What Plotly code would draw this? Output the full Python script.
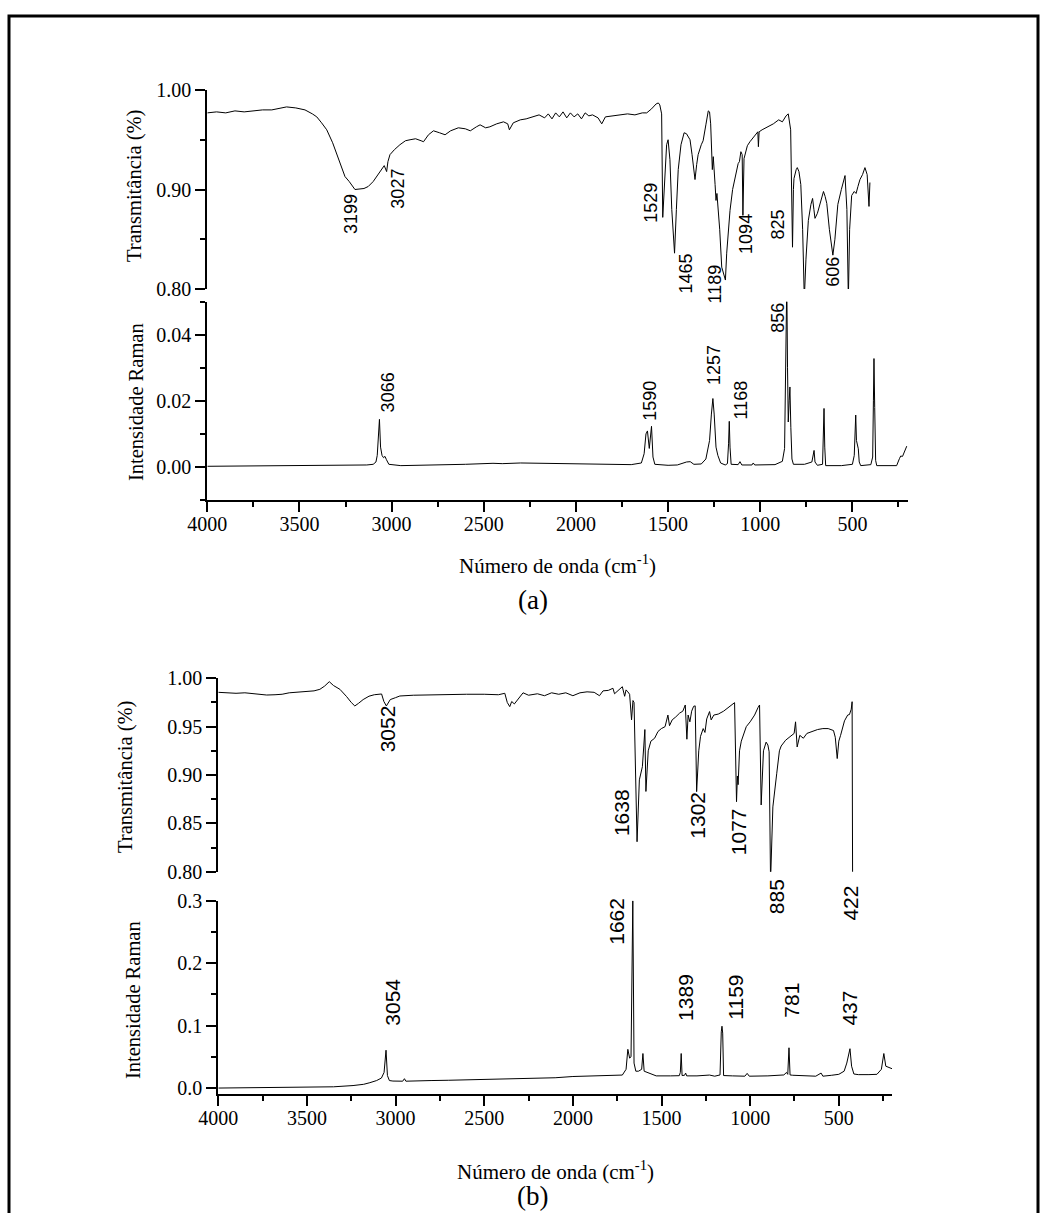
import plotly.graph_objects as go

W, H = 1049, 1213

# ---------------- (a) FTIR spectrum ----------------
ir_a_wn = [4000, 3950, 3900, 3850, 3800, 3750, 3700, 3650, 3600, 3570, 3520, 3470, 3430, 3406,
           3380, 3352, 3320, 3289, 3270, 3253, 3230, 3199, 3150, 3127, 3100, 3081, 3060, 3040,
           3027, 3020, 3009, 2985, 2955, 2925, 2900, 2870, 2840, 2827, 2800, 2773, 2740, 2710,
           2680, 2638, 2600, 2573, 2540, 2520, 2490, 2467, 2430, 2393, 2370, 2361, 2340, 2302,
           2270, 2230, 2200, 2170, 2150, 2130, 2110, 2090, 2070, 2050, 2030, 2010, 1990, 1970,
           1950, 1930, 1910, 1880, 1860, 1840, 1800, 1760, 1720, 1680, 1640, 1616, 1590, 1565,
           1553, 1545, 1535, 1529, 1520, 1508, 1500, 1490, 1480, 1465, 1455, 1445, 1430, 1413,
           1400, 1381, 1370, 1354, 1345, 1337, 1320, 1310, 1295, 1282, 1275, 1269, 1260, 1255,
           1245, 1240, 1235, 1220, 1209, 1189, 1182, 1164, 1150, 1137, 1120, 1113, 1105, 1098,
           1094, 1088, 1070, 1056, 1040, 1020, 1013, 1010, 1006, 990, 960, 929, 900, 880, 860,
           848, 835, 825, 820, 817, 805, 799, 790, 780, 770, 761, 752, 739, 725, 716, 709, 703,
           690, 675, 657, 648, 639, 625, 606, 595, 579, 560, 540, 530, 522, 515, 504, 490, 480,
           470, 459, 445, 432, 420, 410, 405]
ir_a_t = [0.977, 0.978, 0.977, 0.979, 0.978, 0.979, 0.980, 0.980, 0.982, 0.983, 0.982, 0.980,
          0.976, 0.973, 0.967, 0.960, 0.947, 0.931, 0.920, 0.913, 0.908, 0.900, 0.901, 0.903,
          0.908, 0.913, 0.919, 0.924, 0.918, 0.928, 0.935, 0.940, 0.945, 0.949, 0.950, 0.951,
          0.949, 0.948, 0.955, 0.959, 0.957, 0.955, 0.959, 0.962, 0.961, 0.959, 0.963, 0.965,
          0.962, 0.963, 0.966, 0.968, 0.966, 0.960, 0.967, 0.970, 0.971, 0.973, 0.975, 0.972,
          0.976, 0.971, 0.977, 0.973, 0.978, 0.972, 0.977, 0.973, 0.976, 0.971, 0.977, 0.974,
          0.975, 0.972, 0.966, 0.973, 0.974, 0.975, 0.976, 0.975, 0.977, 0.977, 0.981, 0.986,
          0.987, 0.985, 0.976, 0.872, 0.900, 0.945, 0.950, 0.930, 0.880, 0.836, 0.880, 0.920,
          0.945, 0.957, 0.956, 0.950, 0.935, 0.910, 0.925, 0.935, 0.945, 0.949, 0.965, 0.979,
          0.978, 0.966, 0.920, 0.933, 0.905, 0.889, 0.896, 0.860, 0.822, 0.809, 0.836, 0.879,
          0.900, 0.913, 0.926, 0.928, 0.938, 0.935, 0.874, 0.931, 0.944, 0.948, 0.952, 0.956,
          0.958, 0.943, 0.958, 0.960, 0.963, 0.966, 0.970, 0.968, 0.974, 0.976, 0.960, 0.842,
          0.900, 0.911, 0.920, 0.922, 0.918, 0.905, 0.860, 0.790, 0.830, 0.869, 0.885, 0.891,
          0.880, 0.871, 0.876, 0.885, 0.898, 0.893, 0.886, 0.860, 0.834, 0.850, 0.885, 0.900,
          0.914, 0.880, 0.790, 0.860, 0.894, 0.898, 0.896, 0.903, 0.910, 0.915, 0.922, 0.915,
          0.883, 0.907]

# ---------------- (a) Raman spectrum ----------------
ra_a_wn = [4000, 3800, 3600, 3400, 3200, 3135, 3100, 3085, 3078, 3072, 3066, 3060, 3052, 3044,
           3036, 3028, 3015, 2950, 2800, 2600, 2450, 2400, 2300, 2200, 2000, 1800, 1700, 1645,
           1630, 1620, 1612, 1602, 1596, 1590, 1582, 1572, 1500, 1450, 1400, 1380, 1360, 1320,
           1295, 1275, 1265, 1257, 1250, 1240, 1230, 1215, 1190, 1178, 1172, 1168, 1164, 1158,
           1120, 1110, 1100, 1045, 1038, 1030, 920, 880, 868, 861, 856, 852, 848, 843, 839,
           834, 828, 820, 760, 720, 712, 708, 703, 690, 662, 658, 654, 650, 645, 560, 500,
           490, 485, 482, 478, 473, 468, 463, 455, 400, 390, 386, 383, 379, 374, 368, 260,
           245, 238, 228, 218, 205]
ra_a_i = [0.0002, 0.0003, 0.0002, 0.0003, 0.0005, 0.0006, 0.0008, 0.0015, 0.0035, 0.0090,
          0.0144, 0.0060, 0.0035, 0.0028, 0.0032, 0.0022, 0.0008, 0.0004, 0.0005, 0.0008,
          0.0011, 0.0010, 0.0012, 0.0011, 0.0008, 0.0006, 0.0007, 0.0012, 0.0040, 0.0100,
          0.0109, 0.0056, 0.0090, 0.0123, 0.0030, 0.0008, 0.0005, 0.0006, 0.0015, 0.0016,
          0.0008, 0.0009, 0.0024, 0.0080, 0.0160, 0.0207, 0.0160, 0.0060, 0.0035, 0.0012,
          0.0006, 0.0010, 0.0070, 0.0138, 0.0060, 0.0008, 0.0007, 0.0016, 0.0006, 0.0006,
          0.0012, 0.0006, 0.0007, 0.0017, 0.0056, 0.0300, 0.0560, 0.0300, 0.0136, 0.0200,
          0.0242, 0.0120, 0.0024, 0.0008, 0.0008, 0.0015, 0.0045, 0.0050, 0.0015, 0.0005,
          0.0008, 0.0080, 0.0177, 0.0060, 0.0004, 0.0004, 0.0008, 0.0035, 0.0100, 0.0157,
          0.0080, 0.0063, 0.0055, 0.0015, 0.0004, 0.0007, 0.0030, 0.0200, 0.0328, 0.0180,
          0.0020, 0.0004, 0.0004, 0.0025, 0.0033, 0.0032, 0.0045, 0.0063]

# ---------------- (b) FTIR spectrum ----------------
ir_b_wn = [4000, 3950, 3900, 3850, 3800, 3750, 3727, 3680, 3640, 3600, 3550, 3500, 3460, 3427,
           3400, 3374, 3350, 3314, 3295, 3276, 3250, 3230, 3210, 3183, 3150, 3120, 3079, 3066,
           3052, 3040, 3030, 3000, 2976, 2900, 2800, 2700, 2600, 2500, 2420, 2384, 2370, 2356,
           2345, 2330, 2310, 2281, 2250, 2200, 2160, 2120, 2080, 2040, 2000, 1960, 1920, 1880,
           1850, 1830, 1800, 1774, 1765, 1740, 1721, 1708, 1700, 1690, 1680, 1669, 1661, 1655,
           1648, 1638, 1625, 1608, 1600, 1594, 1588, 1575, 1560, 1539, 1520, 1501, 1480, 1464,
           1455, 1440, 1420, 1398, 1380, 1366, 1357, 1350, 1340, 1330, 1319, 1310, 1302, 1290,
           1280, 1265, 1255, 1245, 1229, 1220, 1205, 1180, 1150, 1120, 1100, 1088, 1077, 1072,
           1068, 1060, 1050, 1022, 1000, 975, 955, 947, 938, 925, 910, 900, 893, 885, 872, 860,
           850, 835, 825, 800, 770, 760, 752, 744, 735, 720, 700, 680, 650, 620, 590, 560, 530,
           520, 509, 500, 490, 468, 450, 440, 430, 425, 422]
ir_b_t = [0.9855, 0.985, 0.9845, 0.985, 0.984, 0.983, 0.9827, 0.983, 0.9835, 0.985, 0.9855,
          0.9865, 0.987, 0.9886, 0.992, 0.9965, 0.9925, 0.9886, 0.985, 0.981, 0.975, 0.9714,
          0.974, 0.978, 0.9815, 0.983, 0.9838, 0.976, 0.9714, 0.975, 0.978, 0.980, 0.9817,
          0.9825, 0.983, 0.9835, 0.9835, 0.9835, 0.983, 0.9845, 0.975, 0.9707, 0.976, 0.9735,
          0.978, 0.985, 0.9825, 0.984, 0.982, 0.985, 0.9835, 0.985, 0.982, 0.985, 0.986,
          0.9855, 0.982, 0.987, 0.9875, 0.9897, 0.984, 0.988, 0.9913, 0.9814, 0.988, 0.986,
          0.9835, 0.957, 0.977, 0.975, 0.905, 0.831, 0.895, 0.9086, 0.930, 0.947, 0.883,
          0.925, 0.935, 0.938, 0.945, 0.948, 0.950, 0.962, 0.951, 0.957, 0.960, 0.964, 0.966,
          0.9724, 0.937, 0.962, 0.955, 0.966, 0.971, 0.9715, 0.8828, 0.925, 0.940, 0.948,
          0.944, 0.958, 0.9656, 0.957, 0.962, 0.963, 0.966, 0.970, 0.973, 0.9748, 0.8724,
          0.899, 0.890, 0.925, 0.935, 0.950, 0.955, 0.962, 0.970, 0.9724, 0.869, 0.925, 0.934,
          0.931, 0.924, 0.790, 0.867, 0.890, 0.9018, 0.925, 0.930, 0.936, 0.940, 0.941, 0.943,
          0.955, 0.929, 0.941, 0.938, 0.943, 0.945, 0.947, 0.948, 0.948, 0.946, 0.939, 0.917,
          0.935, 0.941, 0.956, 0.962, 0.9625, 0.968, 0.9758, 0.780]

# ---------------- (b) Raman spectrum ----------------
ra_b_wn = [4000, 3800, 3600, 3450, 3350, 3240, 3180, 3145, 3107, 3080, 3065, 3054, 3046, 3035,
           3015, 2960, 2950, 2942, 2900, 2800, 2700, 2600, 2500, 2400, 2300, 2200, 2100, 2000,
           1900, 1811, 1721, 1700, 1690, 1680, 1672, 1662, 1655, 1645, 1630, 1612, 1605, 1598,
           1580, 1560, 1530, 1450, 1400, 1394, 1389, 1384, 1370, 1364, 1358, 1300, 1229, 1200,
           1170, 1163, 1159, 1155, 1150, 1100, 1030, 1017, 1005, 900, 810, 795, 788, 781, 775,
           760, 700, 630, 600, 590, 540, 500, 470, 455, 437, 428, 415, 390, 330, 285, 260, 246,
           235, 215, 200]
ra_b_i = [0.0, 0.0005, 0.0005, 0.001, 0.002, 0.004, 0.006, 0.0086, 0.012, 0.016, 0.025, 0.0606,
          0.020, 0.012, 0.0112, 0.011, 0.015, 0.011, 0.0115, 0.012, 0.0125, 0.013, 0.014, 0.0145,
          0.015, 0.016, 0.0165, 0.0185, 0.019, 0.0197, 0.0208, 0.030, 0.062, 0.048, 0.050, 0.300,
          0.040, 0.027, 0.027, 0.030, 0.0553, 0.027, 0.025, 0.022, 0.0195, 0.0195, 0.0198, 0.025,
          0.0553, 0.020, 0.0205, 0.024, 0.0195, 0.0195, 0.0208, 0.019, 0.021, 0.090, 0.099,
          0.088, 0.020, 0.0195, 0.019, 0.0235, 0.019, 0.0195, 0.021, 0.025, 0.022, 0.0645, 0.021,
          0.0205, 0.0195, 0.019, 0.024, 0.019, 0.0205, 0.022, 0.027, 0.040, 0.063, 0.035, 0.0225,
          0.0215, 0.0215, 0.022, 0.030, 0.0553, 0.035, 0.032, 0.031]

# Peak labels: (wavenumber, label height in axis units, horizontal offset in px)
ir_a_labels = [(3199, 0.8754, -4), (3027, 0.9005, 11), (1529, 0.8864, -12), (1465, 0.8151, 11),
               (1189, 0.8050, -10), (1094, 0.8553, 3), (825, 0.8643, -14), (606, 0.8171, 0)]
ra_a_labels = [(3066, 0.0227, 8), (1590, 0.0199, -1), (1257, 0.0308, 1), (1168, 0.0202, 12),
               (856, 0.0451, -9)]
ir_b_labels = [(3052, 0.9476, 2), (1638, 0.8607, -16), (1302, 0.8586, 0), (1077, 0.8414, 2),
               (885, 0.7742, 6), (422, 0.7677, -2)]
ra_b_labels = [(3054, 0.1367, 7), (1662, 0.2676, -16), (1389, 0.1447, 4), (1159, 0.1463, 14),
               (781, 0.1415, 3), (437, 0.1288, 0)]

x_ticks = [4000, 3500, 3000, 2500, 2000, 1500, 1000, 500]
X_RANGE = [4000, 200]


def px_x(p):
    return p / W


def px_y(p):
    return 1 - p / H


SERIF = "Liberation Serif"
SANS = "Liberation Sans"
TICKFONT = dict(family=SERIF, size=20, color="black")

# Panel geometry (pixels)
xa_dom = [px_x(207.3), px_x(907.7)]
xb_dom = [px_x(218.3), px_x(892.0)]
ya_ir_dom = [px_y(289), px_y(90)]
ya_ra_dom = [px_y(500), px_y(301.7)]
yb_ir_dom = [px_y(871.7), px_y(678.3)]
yb_ra_dom = [px_y(1094.3), px_y(900.7)]
IR_RANGE = [0.80, 1.00]
RA_A_RANGE = [-0.01, 0.05]
RA_B_RANGE = [-0.01, 0.30]

fig = go.Figure()
spectra = [
    (ir_a_wn, ir_a_t, "x", "y"),
    (ra_a_wn, ra_a_i, "x2", "y2"),
    (ir_b_wn, ir_b_t, "x3", "y3"),
    (ra_b_wn, ra_b_i, "x4", "y4"),
]
for wn, val, xa, ya in spectra:
    fig.add_trace(go.Scatter(x=wn, y=val, mode="lines", xaxis=xa, yaxis=ya,
                             line=dict(color="black", width=1), showlegend=False,
                             hoverinfo="skip"))

MINOR = dict(ticks="outside", ticklen=5, tickwidth=2, tickcolor="black", showgrid=False)
common_y = dict(showline=True, linecolor="black", linewidth=2, ticks="outside", ticklen=10,
                tickwidth=2, tickcolor="black", tickfont=TICKFONT, showgrid=False,
                zeroline=False, fixedrange=True, automargin=False)


def hidden_x(dom, anchor):
    return dict(domain=dom, range=X_RANGE, visible=False, anchor=anchor,
                showgrid=False, zeroline=False, automargin=False)


def shown_x(dom, anchor):
    return dict(domain=dom, range=X_RANGE, anchor=anchor, showline=True,
                linecolor="black", linewidth=2, ticks="outside", ticklen=10, tickwidth=2,
                tickcolor="black", tickvals=x_ticks, tickfont=TICKFONT, showgrid=False,
                zeroline=False, automargin=False, ticklabelstandoff=-5,
                minor=dict(dtick=250, tick0=0, **MINOR))


fig.update_layout(
    width=W, height=H, margin=dict(l=0, r=0, t=0, b=0, pad=0), autosize=False,
    paper_bgcolor="white", plot_bgcolor="white",
    xaxis=hidden_x(xa_dom, "y"),
    xaxis2=shown_x(xa_dom, "y2"),
    xaxis3=hidden_x(xb_dom, "y3"),
    xaxis4=shown_x(xb_dom, "y4"),
    yaxis=dict(domain=ya_ir_dom, range=IR_RANGE, anchor="x", dtick=0.1, tick0=0,
               tickformat=".2f", minor=dict(dtick=0.05, tick0=0, **MINOR), **common_y),
    yaxis2=dict(domain=ya_ra_dom, range=RA_A_RANGE, anchor="x2", dtick=0.02, tick0=0,
                tickformat=".2f", minor=dict(dtick=0.01, tick0=0, **MINOR), **common_y),
    yaxis3=dict(domain=yb_ir_dom, range=IR_RANGE, anchor="x3", dtick=0.05, tick0=0,
                tickformat=".2f", minor=dict(dtick=0.025, tick0=0, **MINOR), **common_y),
    yaxis4=dict(domain=yb_ra_dom, range=RA_B_RANGE, anchor="x4", dtick=0.1, tick0=0,
                tickformat=".1f", minor=dict(dtick=0.05, tick0=0, **MINOR), **common_y),
)


def to_paper(v, dom, rng):
    # value on a y axis -> paper coordinate (works outside the axis range too)
    return dom[0] + (v - rng[0]) / (rng[1] - rng[0]) * (dom[1] - dom[0])


annotations = []
for labels, xa, dom, rng, size in [(ir_a_labels, "x", ya_ir_dom, IR_RANGE, 18),
                                   (ra_a_labels, "x2", ya_ra_dom, RA_A_RANGE, 18),
                                   (ir_b_labels, "x3", yb_ir_dom, IR_RANGE, 21),
                                   (ra_b_labels, "x4", yb_ra_dom, RA_B_RANGE, 21)]:
    for wn, yl, dx in labels:
        annotations.append(dict(x=wn, y=to_paper(yl, dom, rng), xref=xa, yref="paper",
                                xshift=dx, text=str(wn), textangle=-90, showarrow=False,
                                xanchor="center", yanchor="middle",
                                font=dict(family=SANS, size=size, color="black")))

# Axis titles and panel captions
titles = [
    ("Transmitância (%)", 135, 186, -90, 20.5),
    ("Intensidade Raman", 136, 402, -90, 20.5),
    ("Transmitância (%)", 125, 777, -90, 20.5),
    ("Intensidade Raman", 133, 1000, -90, 20.5),
    ("Número de onda (cm<sup>-1</sup>)", 557, 564, 0, 21),
    ("Número de onda (cm<sup>-1</sup>)", 555, 1170, 0, 21),
    ("(a)", 533, 600, 0, 27),
    ("(b)", 532, 1196, 0, 27),
]
for text, cx, cy, ang, size in titles:
    annotations.append(dict(x=px_x(cx), y=px_y(cy), xref="paper", yref="paper", text=text,
                            textangle=ang, showarrow=False, xanchor="center",
                            yanchor="middle",
                            font=dict(family=SERIF, size=size, color="black")))
fig.update_layout(annotations=annotations)

# Frame around the whole figure
fig.add_shape(type="rect", xref="paper", yref="paper", x0=px_x(9), x1=px_x(1038),
              y0=px_y(1230), y1=px_y(16), line=dict(color="black", width=3))

fig.write_html("out.html")
